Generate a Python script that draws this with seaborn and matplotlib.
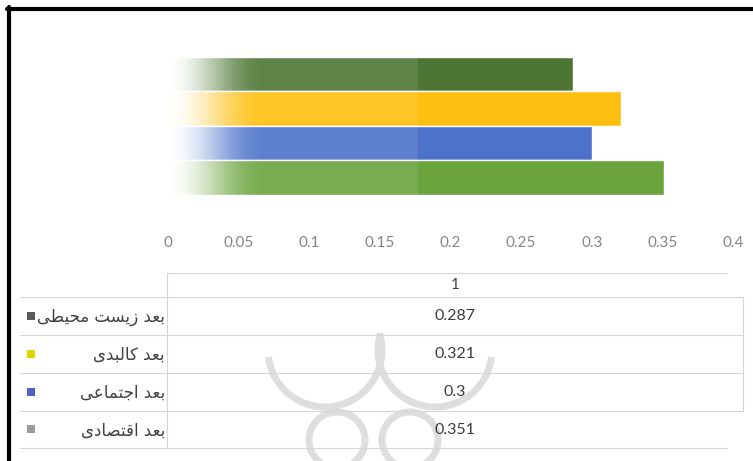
import numpy as np
import pandas as pd
import matplotlib
matplotlib.use("Agg")
import matplotlib.pyplot as plt
from matplotlib.transforms import Affine2D
from matplotlib.lines import Line2D
from matplotlib.patches import Arc, Rectangle
import seaborn as sns

# ---------------- data ----------------
series = ["بعد زیست محیطی", "بعد کالبدی", "بعد اجتماعی", "بعد اقتصادی"]
values = [0.287, 0.321, 0.3, 0.351]
category = "1"
value_labels = ["0.287", "0.321", "0.3", "0.351"]
xticks = [0, 0.05, 0.1, 0.15, 0.2, 0.25, 0.3, 0.35, 0.4]
xtick_labels = ["0", "0.05", "0.1", "0.15", "0.2", "0.25", "0.3", "0.35", "0.4"]
bar_colors = ["#4d7634", "#fdbf0f", "#4d72c9", "#6ba43f"]
key_colors = ["#5a5a5a", "#e2d400", "#4f5fc2", "#9a9a9a"]

# ------------- minimal Arabic/Persian shaping -------------
FORMS = {
    "ا": ("\uFE8D", "\uFE8E", None, None),
    "ب": ("\uFE8F", "\uFE90", "\uFE91", "\uFE92"),
    "ت": ("\uFE95", "\uFE96", "\uFE97", "\uFE98"),
    "ج": ("\uFE9D", "\uFE9E", "\uFE9F", "\uFEA0"),
    "ح": ("\uFEA1", "\uFEA2", "\uFEA3", "\uFEA4"),
    "د": ("\uFEA9", "\uFEAA", None, None),
    "ز": ("\uFEAF", "\uFEB0", None, None),
    "س": ("\uFEB1", "\uFEB2", "\uFEB3", "\uFEB4"),
    "ص": ("\uFEB9", "\uFEBA", "\uFEBB", "\uFEBC"),
    "ط": ("\uFEC1", "\uFEC2", "\uFEC3", "\uFEC4"),
    "ع": ("\uFEC9", "\uFECA", "\uFECB", "\uFECC"),
    "ق": ("\uFED5", "\uFED6", "\uFED7", "\uFED8"),
    "ل": ("\uFEDD", "\uFEDE", "\uFEDF", "\uFEE0"),
    "م": ("\uFEE1", "\uFEE2", "\uFEE3", "\uFEE4"),
    "ک": ("\uFB8E", "\uFB8F", "\uFB90", "\uFB91"),
    "ی": ("\uFBFC", "\uFBFD", "\uFBFE", "\uFBFF"),
}


def dual(c):
    return c in FORMS and FORMS[c][2] is not None


def shape(text):
    out = []
    for i, c in enumerate(text):
        if c not in FORMS:
            out.append(c)
            continue
        prev = text[i - 1] if i > 0 else ""
        nxt = text[i + 1] if i + 1 < len(text) else ""
        jp = dual(prev)
        jn = dual(c) and nxt in FORMS
        iso, fin, ini, med = FORMS[c]
        if jp and jn:
            out.append(med)
        elif jp:
            out.append(fin)
        elif jn:
            out.append(ini)
        else:
            out.append(iso)
    return "".join(out)[::-1]


# ---------------- figure ----------------
sns.set_theme(style="white")
plt.rcParams["font.family"] = ["Lato", "DejaVu Sans"]

W, H, DPI = 753, 461, 100
fig = plt.figure(figsize=(W / DPI, H / DPI), dpi=DPI)
fig.patch.set_facecolor("white")
# pixel coordinates, origin top-left, y downward
px = Affine2D().scale(1 / DPI, -1 / DPI).translate(0, H / DPI) + fig.dpi_scale_trans

# watermark (faint ornament); angles are mirrored because y is flipped
wm = "#dedede"
for (cx, cy, r, t1, t2) in [(325, 350, 57, 343, 173), (435, 350, 57, 7, 197),
                            (337, 440, 28, 0, 360), (410, 440, 28, 0, 360)]:
    fig.add_artist(Arc((cx, cy), 2 * r, 2 * r, theta1=t1, theta2=t2,
                       transform=px, color=wm, lw=5, zorder=0.5))

# axes: x 0 -> 168 px, 0.4 -> 733 px ; y from 40 px to 225 px
ax_l, ax_r, ax_t, ax_b = 168, 733, 40, 225
ax = fig.add_axes([ax_l / W, 1 - ax_b / H, (ax_r - ax_l) / W, (ax_b - ax_t) / H])
ax.set_facecolor("none")

df = pd.DataFrame({"series": series, "value": values})
sns.barplot(data=df, x="value", y="series", hue="series", palette=bar_colors,
            dodge=False, width=1.0, saturation=1, legend=False, ax=ax, zorder=2)

# left fade + slightly lighter left section (white overlay)
xs = np.linspace(0, 0.4, 1600)
fade_end = 0.068
t = np.clip(xs / fade_end, 0, 1)
alpha = 1 - (1 - 0.1) * (0.5 - 0.5 * np.cos(np.pi * t))
alpha[xs > 0.177] = 0.0
img = np.ones((1, xs.size, 4))
img[0, :, 3] = alpha
ax.imshow(img, extent=[0, 0.4, 3.5, -0.5], aspect="auto", zorder=3,
          interpolation="bilinear")

unit = (195 - 57) / 4.0
ax.set_xlim(0, 0.4)
ax.set_ylim(3.5 + (ax_b - 195) / unit, -0.5 - (57 - ax_t) / unit)
ax.set_xticks(xticks)
ax.set_xticklabels(xtick_labels)
ax.tick_params(axis="x", length=0, pad=8, labelsize=11, labelcolor="#858585")
ax.tick_params(axis="y", left=False, labelleft=False)
ax.set_xlabel("")
ax.set_ylabel("")
for s in ax.spines.values():
    s.set_visible(False)
ax.grid(False)

# ---------------- data table ----------------
gc = "#d6d6d6"


def hline(x0, x1, y):
    fig.add_artist(Line2D([x0, x1], [y, y], transform=px, color=gc, lw=0.8, zorder=2))


def vline(x, y0, y1):
    fig.add_artist(Line2D([x, x], [y0, y1], transform=px, color=gc, lw=0.8, zorder=2))


hline(167, 727, 273)
hline(20, 743, 297)
row_edges = [297, 335, 373, 411, 448]
for y in row_edges[1:-1]:
    hline(20, 743, y)
hline(20, 727, 448)
vline(167, 273, 448)
vline(743, 297, 411)

fig.text(455 / W, 1 - 285 / H, category, ha="center", va="center",
         fontsize=11, color="#404040")

for i, (name, lab) in enumerate(zip(series, value_labels)):
    yc = (row_edges[i] + row_edges[i + 1]) / 2
    fig.text(455 / W, 1 - yc / H, lab, ha="center", va="center",
             fontsize=11.5, color="#3c3c3c")
    fig.text(165 / W, 1 - (yc + 1) / H, shape(name), ha="right", va="center",
             fontsize=12, color="#404040", family=["DejaVu Sans"])
    fig.add_artist(Rectangle((27, yc - 4), 8, 8, transform=px,
                             facecolor=key_colors[i], edgecolor="none", zorder=3))

# black frame (top and left)
fig.add_artist(Line2D([7, W], [9, 9], transform=px, color="black", lw=3, zorder=5))
fig.add_artist(Line2D([9, 9], [7, H], transform=px, color="black", lw=3, zorder=5))

fig.savefig("out.png", dpi=DPI, facecolor="white")
